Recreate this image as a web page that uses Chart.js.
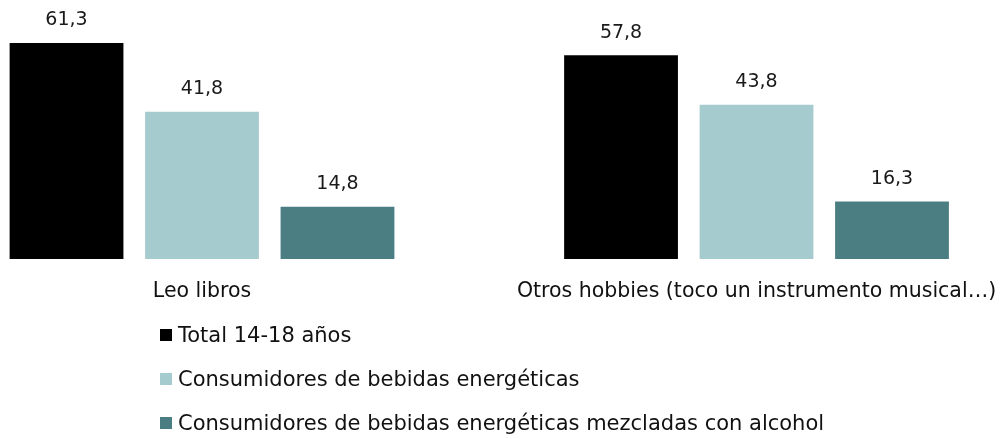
<!DOCTYPE html>
<html>
<head>
<meta charset="utf-8">
<script src="https://cdn.jsdelivr.net/npm/chart.js@4/dist/chart.umd.min.js"></script>
<style>
  html, body { margin: 0; padding: 0; background: #fff; }
  #wrap { position: relative; width: 1000px; height: 439px; }
  #legend { position: absolute; left: 160px; top: 313px; font-family: "DejaVu Sans", sans-serif; font-size: 21px; color: #111; }
  #legend .item { height: 44px; display: flex; align-items: center; }
  #legend .box { width: 12px; height: 12px; margin-right: 6px; }
</style>
</head>
<body>
<div id="wrap">
  <canvas id="c" width="1000" height="439"></canvas>
  <div id="legend"></div>
</div>
<script>
const categories = ["Leo libros", "Otros hobbies (toco un instrumento musical…)"];
const seriesNames = ["Total 14-18 años", "Consumidores de bebidas energéticas", "Consumidores de bebidas energéticas mezcladas con alcohol"];
const totalValues = [61.3, 57.8];
const energyValues = [41.8, 43.8];
const mixedValues = [14.8, 16.3];
const seriesColors = ["#000000", "#A6CBCE", "#4B7E83"];

const allValues = [totalValues, energyValues, mixedValues];
const datasets = allValues.map((vals, i) => ({
  label: seriesNames[i],
  data: vals.map((v, j) => ({ x: j, y: v })),
  backgroundColor: seriesColors[i],
  borderWidth: 0,
  categoryPercentage: 0.733,
  barPercentage: 0.84
}));

const labelPlugin = {
  id: 'valueLabels',
  afterDatasetsDraw(chart) {
    const ctx = chart.ctx;
    ctx.save();
    ctx.font = '19px "DejaVu Sans", sans-serif';
    ctx.fillStyle = '#1a1a1a';
    ctx.textAlign = 'center';
    ctx.textBaseline = 'bottom';
    chart.data.datasets.forEach((ds, i) => {
      chart.getDatasetMeta(i).data.forEach((el, j) => {
        const v = ds.data[j].y;
        ctx.fillText(v.toFixed(1).replace('.', ','), el.x, el.y - 13);
      });
    });
    ctx.restore();
  }
};

new Chart(document.getElementById('c'), {
  type: 'bar',
  data: { datasets },
  options: {
    responsive: false,
    animation: false,
    layout: { padding: 0 },
    plugins: { legend: { display: false }, tooltip: { enabled: false } },
    scales: {
      x: {
        type: 'linear',
        offset: false,
        min: -0.3643,
        max: 1.4391,
        grid: { display: false, drawTicks: false },
        border: { display: false },
        afterBuildTicks: s => { s.ticks = [{ value: 0 }, { value: 1 }]; },
        afterFit: s => { s.height = 180; s.paddingLeft = 0; s.paddingRight = 0; },
        ticks: {
          padding: 20,
          maxRotation: 0,
          autoSkip: false,
          color: '#111',
          font: { family: '"DejaVu Sans", sans-serif', size: 20.5 },
          callback: v => categories[v]
        }
      },
      y: {
        display: false,
        min: 0,
        max: 73.5
      }
    }
  },
  plugins: [labelPlugin]
});

const leg = document.getElementById('legend');
seriesNames.forEach((n, i) => {
  const d = document.createElement('div');
  d.className = 'item';
  d.innerHTML = '<span class="box" style="background:' + seriesColors[i] + '"></span><span></span>';
  d.lastChild.textContent = n;
  leg.appendChild(d);
});
</script>
</body>
</html>
